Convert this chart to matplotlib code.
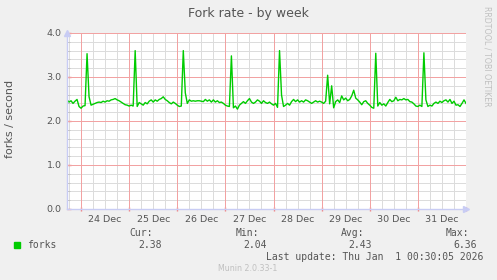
import datetime as dt
import matplotlib
matplotlib.use("Agg")
import matplotlib.pyplot as plt
import matplotlib.dates as mdates
from matplotlib.patches import Rectangle

# hourly samples, hours relative to 24 Dec 00:00
hours = list(range(-7, 193))
forks = [
    2.48, 2.43, 2.46, 2.40, 2.45, 2.49, 2.33,                      # 23 Dec evening
    2.29, 2.34, 2.35, 3.53, 2.55, 2.36, 2.38, 2.40, 2.42, 2.43, 2.42, 2.45,
    2.43, 2.46, 2.45, 2.48, 2.49, 2.51, 2.48, 2.46, 2.43, 2.40, 2.37, 2.36,  # 24 Dec
    2.34, 2.36, 2.34, 3.60, 2.33, 2.42, 2.39, 2.36, 2.42, 2.39, 2.45, 2.48,
    2.43, 2.48, 2.45, 2.49, 2.51, 2.55, 2.49, 2.46, 2.42, 2.39, 2.43, 2.40,  # 25 Dec
    2.36, 2.33, 2.34, 3.60, 2.64, 2.40, 2.48, 2.45, 2.46, 2.45, 2.46, 2.46,
    2.45, 2.44, 2.49, 2.45, 2.48, 2.43, 2.48, 2.43, 2.46, 2.42, 2.43, 2.40,  # 26 Dec
    2.36, 2.34, 2.33, 3.48, 2.30, 2.34, 2.27, 2.36, 2.40, 2.44, 2.40, 2.46,
    2.51, 2.43, 2.40, 2.43, 2.48, 2.45, 2.40, 2.46, 2.42, 2.40, 2.43, 2.39,  # 27 Dec
    2.36, 2.40, 2.31, 3.60, 2.59, 2.33, 2.36, 2.40, 2.36, 2.44, 2.49, 2.44,
    2.48, 2.43, 2.46, 2.43, 2.48, 2.46, 2.43, 2.40, 2.43, 2.46, 2.43, 2.45,  # 28 Dec
    2.43, 2.40, 2.45, 3.04, 2.39, 2.80, 2.30, 2.44, 2.48, 2.42, 2.57, 2.48,
    2.52, 2.46, 2.49, 2.57, 2.70, 2.52, 2.48, 2.43, 2.37, 2.44, 2.46, 2.40,  # 29 Dec
    2.36, 2.31, 2.29, 3.54, 2.34, 2.42, 2.36, 2.39, 2.34, 2.42, 2.49, 2.44,
    2.46, 2.54, 2.46, 2.49, 2.48, 2.51, 2.48, 2.49, 2.44, 2.43, 2.39, 2.34,  # 30 Dec
    2.33, 2.36, 2.33, 3.55, 2.48, 2.33, 2.36, 2.34, 2.40, 2.43, 2.40, 2.45,
    2.42, 2.46, 2.48, 2.43, 2.49, 2.40, 2.45, 2.36, 2.37, 2.33, 2.40, 2.48,  # 31 Dec
    2.40,
]

legend_headers = ["Cur:", "Min:", "Avg:", "Max:"]
legend_values = ["2.38", "2.04", "2.43", "6.36"]
last_update = "Last update: Thu Jan  1 00:30:05 2026"

base = dt.datetime(2025, 12, 24)
times = [base + dt.timedelta(hours=h) for h in hours]

W, H = 497, 280
fig = plt.figure(figsize=(W / 100, H / 100), dpi=100, facecolor="#F0F0F0")

def px(x, y):
    return x / W, 1 - y / H

left, right, top, bottom = 67, 466, 33, 209
ax = fig.add_axes([left / W, 1 - bottom / H, (right - left) / W, (bottom - top) / H])
ax.set_facecolor("white")

txt = "#555555"
axis_col = "#C8CCF4"
red = "#F2A2A2"
grey = "#DCDCDC"
onepx = 0.72  # 1 pixel in points at 100 dpi

ax.plot(times, forks, color="#00CC00", lw=1, zorder=3)

ax.set_xlim(base - dt.timedelta(hours=7.0), base + dt.timedelta(hours=192.0))
ax.set_ylim(0, 4.0)

ax.xaxis.set_major_locator(mdates.DayLocator())
ax.xaxis.set_minor_locator(mdates.HourLocator(byhour=[6, 12, 18]))
ax.xaxis.set_major_formatter(plt.NullFormatter())
ax.xaxis.set_minor_formatter(
    plt.FuncFormatter(lambda v, p: mdates.num2date(v).strftime("%d %b") if mdates.num2date(v).hour == 12 else "")
)
ax.yaxis.set_major_locator(plt.MultipleLocator(1.0))
ax.yaxis.set_minor_locator(plt.FixedLocator([v / 5 for v in range(21) if v % 5]))
ax.yaxis.set_major_formatter(plt.FormatStrFormatter("%.1f"))

# thin grid, one crisp line per locator position
for v in ax.xaxis.get_minorticklocs():
    ax.axvline(v, color=grey, lw=onepx, antialiased=False, zorder=1)
for v in ax.yaxis.get_minorticklocs():
    ax.axhline(v, color=grey, lw=onepx, antialiased=False, zorder=1)
for v in ax.xaxis.get_majorticklocs():
    ax.axvline(v, color=red, lw=onepx, antialiased=False, zorder=2)
for v in ax.yaxis.get_majorticklocs():
    ax.axhline(v, color=red, lw=onepx, antialiased=False, zorder=2)

ax.tick_params(axis="x", which="major", length=3, width=1, color="#F08080", direction="inout")
ax.tick_params(axis="x", which="minor", length=0, labelsize=6.8, labelcolor=txt, pad=4)
ax.tick_params(axis="y", which="major", length=3, width=1, color="#F08080", direction="in",
               labelsize=6.8, labelcolor=txt, pad=4)
ax.tick_params(axis="y", which="minor", length=2, width=0.6, color="#C0C0C0", direction="in")

for s in ["top", "right"]:
    ax.spines[s].set_visible(False)
for s in ["left", "bottom"]:
    ax.spines[s].set_color(axis_col)
    ax.spines[s].set_linewidth(1)
    ax.spines[s].set_zorder(5)

# axis arrows
ax.plot([0], [1.0], marker="^", ms=4, color=axis_col, transform=ax.transAxes, clip_on=False, zorder=5)
ax.plot([1.0], [0], marker=">", ms=4, color=axis_col, transform=ax.transAxes, clip_on=False, zorder=5)

fig.text(*px(10.5, 119), "forks / second", fontsize=8, color=txt, rotation=90, ha="center", va="center")
fig.text(*px(248, 13), "Fork rate - by week", fontsize=9, color=txt, ha="center", va="center")
fig.text(*px(487, 56), "RRDTOOL / TOBI OETIKER", fontsize=5.7, color="#C0C0C0",
         rotation=270, ha="center", va="center")

# legend block
fig.patches.append(Rectangle(px(14, 248.3), 6 / W, 6 / H, color="#00CC00", transform=fig.transFigure))
fig.text(*px(26.7, 245.3), "forks", fontsize=7, family="DejaVu Sans Mono", color=txt, va="center")
head_x = [153, 259, 364, 469.3]
val_x = [161.7, 267.3, 372.3, 477.3]
for hx, vx, h, v in zip(head_x, val_x, legend_headers, legend_values):
    fig.text(*px(hx, 233), h, fontsize=7, family="DejaVu Sans Mono", color=txt, ha="right", va="center")
    fig.text(*px(vx, 245.3), v, fontsize=7, family="DejaVu Sans Mono", color=txt, ha="right", va="center")
fig.text(*px(483.3, 257.3), last_update, fontsize=7, family="DejaVu Sans Mono", color=txt,
         ha="right", va="center")
fig.text(*px(248, 268.3), "Munin 2.0.33-1", fontsize=5.7, color="#C0C0C0", ha="center", va="center")

fig.savefig("out.png", dpi=100, facecolor=fig.get_facecolor())
